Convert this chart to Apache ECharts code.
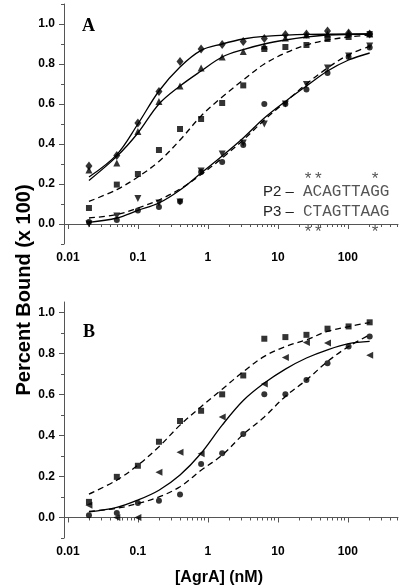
<!DOCTYPE html>
<html><head><meta charset="utf-8">
<script src="https://cdn.jsdelivr.net/npm/echarts@6/dist/echarts.min.js"></script>
<style>html,body{margin:0;padding:0;background:#fff}#c{width:400px;height:588px}</style>
</head><body><div id="c"></div>
<script>
// concentrations (nM)
const conc = [0.02, 0.05, 0.1, 0.2, 0.4, 0.8, 1.6, 3.2, 6.4, 12.8, 25.6, 51.2, 102.4, 204.8];
const xMajorTicks = [0.01, 0.1, 1, 10, 100];
const xMinorTicks = [0.02,0.03,0.04,0.05,0.06,0.07,0.08,0.09,0.2,0.3,0.4,0.5,0.6,0.7,0.8,0.9,2,3,4,5,6,7,8,9,20,30,40,50,60,70,80,90,200,300,400,500];
const yMajorTicks = [0, 0.2, 0.4, 0.6, 0.8, 1.0];
const yMinorTicksA = [-0.1, 0.1, 0.3, 0.5, 0.7, 0.9, 1.1];
const yMinorTicksB = [-0.1, 0.1, 0.3, 0.5, 0.7, 0.9];

// Panel A points
const aDiamond = [0.29, 0.343, 0.505, 0.663, 0.813, 0.875, 0.897, 0.913, 0.927, 0.947, 0.95, 0.965, 0.955, 0.95];
const aTriUp   = [0.27, 0.305, 0.463, 0.613, 0.69, 0.78, 0.835, 0.863, 0.89, 0.93, 0.945, 0.95, 0.955, 0.95];
const aSquare  = [0.08, 0.197, 0.25, 0.37, 0.475, 0.525, 0.605, 0.693, 0.875, 0.885, 0.895, 0.925, 0.935, 0.95];
const aCircle  = [0.01, 0.02, 0.068, 0.085, 0.112, 0.26, 0.31, 0.395, 0.6, 0.6, 0.672, 0.755, 0.835, 0.882];
const aTriDown = [0.0, 0.04, 0.127, 0.105, 0.11, 0.265, 0.35, 0.405, 0.5, 0.6, 0.697, 0.78, 0.84, 0.89];

// Panel A fitted curves, read as [conc, value]
const aDiamondFit = [[0.02,0.235],[0.05,0.347],[0.1,0.5],[0.2,0.665],[0.4,0.785],[0.8,0.868],[1.6,0.9],[3.2,0.925],[6.4,0.938],[25.6,0.948],[204.8,0.95]];
const aTriUpFit   = [[0.02,0.218],[0.05,0.338],[0.1,0.455],[0.2,0.6],[0.4,0.69],[0.8,0.765],[1.6,0.835],[3.2,0.872],[6.4,0.9],[12.8,0.92],[25.6,0.935],[51.2,0.945],[204.8,0.95]];
const aSquareFit  = [[0.02,0.113],[0.05,0.172],[0.1,0.235],[0.2,0.313],[0.4,0.42],[0.8,0.54],[1.6,0.635],[3.2,0.72],[6.4,0.8],[12.8,0.855],[25.6,0.895],[51.2,0.92],[102.4,0.935],[204.8,0.945]];
const aCircleFit  = [[0.02,0.008],[0.05,0.03],[0.1,0.068],[0.2,0.105],[0.4,0.17],[0.8,0.255],[1.6,0.34],[3.2,0.43],[6.4,0.53],[12.8,0.613],[25.6,0.69],[51.2,0.765],[102.4,0.82],[204.8,0.855]];
const aTriDownFit = [[0.02,0.03],[0.05,0.047],[0.1,0.08],[0.2,0.12],[0.4,0.175],[0.8,0.247],[1.6,0.33],[3.2,0.42],[6.4,0.52],[12.8,0.61],[25.6,0.7],[51.2,0.78],[102.4,0.846],[204.8,0.888]];

// Panel B points
const bSquare  = [0.076, 0.198, 0.252, 0.369, 0.47, 0.52, 0.6, 0.692, 0.871, 0.879, 0.89, 0.92, 0.931, 0.951];
const bTriLeft = [0.06, 0.0, 0.0, 0.22, 0.318, 0.31, 0.49, null, 0.65, 0.78, 0.853, 0.85, null, 0.79];
const bCircle  = [0.011, 0.022, 0.071, 0.081, 0.112, 0.26, 0.313, 0.407, 0.6, 0.6, 0.67, 0.752, 0.833, 0.882];

// Panel B fitted curves
const bSquareFit  = [[0.02,0.114],[0.05,0.182],[0.1,0.255],[0.2,0.345],[0.4,0.45],[0.8,0.54],[1.6,0.625],[3.2,0.71],[6.4,0.785],[12.8,0.833],[25.6,0.866],[51.2,0.907],[102.4,0.93],[204.8,0.95]];
const bTriLeftFit = [[0.02,0.027],[0.05,0.049],[0.1,0.085],[0.2,0.133],[0.4,0.207],[0.8,0.313],[1.6,0.45],[3.2,0.57],[6.4,0.655],[12.8,0.723],[25.6,0.777],[51.2,0.817],[102.4,0.847],[204.8,0.858]];
const bCircleFit  = [[0.02,0.03],[0.05,0.045],[0.1,0.068],[0.2,0.1],[0.4,0.15],[0.8,0.23],[1.6,0.304],[3.2,0.405],[6.4,0.49],[12.8,0.59],[25.6,0.67],[51.2,0.76],[102.4,0.833],[204.8,0.89]];

const chart = echarts.init(document.getElementById('c'), null, {renderer: 'canvas'});
const AX = '#555';
const LBL = {fontFamily: 'Liberation Sans, Arial', fontWeight: 'bold', fontSize: 12, color: '#000'};
const X_MIN = 0.0088, X_MAX = 520;

function xAxes(gi) {
  return [
    {type: 'log', gridIndex: gi, min: X_MIN, max: X_MAX, logBase: 10,
     axisLine: {show: true, lineStyle: {color: AX, width: 1}},
     axisTick: {show: true, customValues: xMajorTicks, length: 5, lineStyle: {color: AX}},
     axisLabel: Object.assign({customValues: xMajorTicks, margin: 8, formatter: v => String(v)}, LBL),
     splitLine: {show: false}, minorTick: {show: false}},
    {type: 'log', gridIndex: gi, min: X_MIN, max: X_MAX, logBase: 10, position: 'bottom',
     axisLine: {show: false},
     axisTick: {show: true, customValues: xMinorTicks, length: 3, lineStyle: {color: AX}},
     axisLabel: {show: false}, splitLine: {show: false}}
  ];
}
function yAxes(gi, max, minor) {
  return [
    {type: 'value', gridIndex: gi, min: -0.1, max: max,
     axisLine: {show: true, lineStyle: {color: AX, width: 1}},
     axisTick: {show: true, customValues: yMajorTicks, length: 5, lineStyle: {color: AX}},
     axisLabel: Object.assign({customValues: yMajorTicks, margin: 9, formatter: v => v.toFixed(1)}, LBL),
     splitLine: {show: false}},
    {type: 'value', gridIndex: gi, min: -0.1, max: max, position: 'left',
     axisLine: {show: false},
     axisTick: {show: true, customValues: minor, length: 3, lineStyle: {color: AX}},
     axisLabel: {show: false}, splitLine: {show: false}}
  ];
}

function pts(vals) { return conc.map((c, i) => vals[i] == null ? null : [c, vals[i]]).filter(p => p); }
function scatter(xi, yi, vals, symbol, size, rot) {
  return {type: 'scatter', xAxisIndex: xi, yAxisIndex: yi, data: pts(vals), symbol: symbol,
          symbolSize: size, symbolRotate: rot || 0, itemStyle: {color: '#000'}, silent: true, z: 5};
}
function curve(xi, yi, data, dashed) {
  return {type: 'line', xAxisIndex: xi, yAxisIndex: yi, data: data, smooth: 0.35, showSymbol: false,
          lineStyle: {color: '#000', width: 1.3, type: dashed ? [6, 4] : 'solid'}, silent: true, z: 3};
}

const MONO = '"Liberation Mono", "Courier New", monospace';
const option = {
  animation: false,
  backgroundColor: '#fff',
  grid: [
    {left: 64, top: 4, width: 334, height: 240, containLabel: false},
    {left: 64, top: 302, width: 334, height: 236, containLabel: false}
  ],
  xAxis: [...xAxes(0), ...xAxes(1)],
  yAxis: [...yAxes(0, 1.1, yMinorTicksA), ...yAxes(1, 1.05, yMinorTicksB)],
  series: [
    curve(0, 0, aDiamondFit, false),
    curve(0, 0, aTriUpFit, false),
    curve(0, 0, aSquareFit, true),
    curve(0, 0, aCircleFit, false),
    curve(0, 0, aTriDownFit, true),
    scatter(0, 0, aDiamond, 'diamond', [7, 9]),
    scatter(0, 0, aTriUp, 'triangle', 7),
    scatter(0, 0, aSquare, 'rect', 6),
    scatter(0, 0, aCircle, 'circle', 6),
    scatter(0, 0, aTriDown, 'triangle', 7, 180),
    curve(2, 2, bSquareFit, true),
    curve(2, 2, bTriLeftFit, false),
    curve(2, 2, bCircleFit, true),
    scatter(2, 2, bSquare, 'rect', 6),
    scatter(2, 2, bTriLeft, 'triangle', 7, 90),
    scatter(2, 2, bCircle, 'circle', 6)
  ],
  graphic: [
    {type: 'text', left: 82, top: 17, style: {text: 'A', font: 'bold 18px "Liberation Serif", "Times New Roman", serif', fill: '#000'}},
    {type: 'text', left: 83, top: 323, style: {text: 'B', font: 'bold 18px "Liberation Serif", "Times New Roman", serif', fill: '#000'}},
    {type: 'text', x: 24, y: 290, rotation: Math.PI / 2,
     style: {text: 'Percent Bound (x 100)', font: 'bold 20px "Liberation Sans", Arial', fill: '#000', align: 'center', verticalAlign: 'middle'}},
    {type: 'text', x: 219, y: 578, style: {text: '[AgrA] (nM)', font: 'bold 16px "Liberation Sans", Arial', fill: '#000', align: 'center', verticalAlign: 'middle'}},
    {type: 'text', x: 263, y: 192, style: {text: 'P2 \u2013 ', font: '15px "Liberation Sans", Arial', fill: '#222', verticalAlign: 'middle'}},
    {type: 'text', x: 303, y: 192, style: {text: 'ACAGTTAGG', font: '16px ' + MONO, fill: '#555', verticalAlign: 'middle'}},
    {type: 'text', x: 303, y: 179, style: {text: '**', font: '17px ' + MONO, fill: '#555', verticalAlign: 'middle'}},
    {type: 'text', x: 370, y: 179, style: {text: '*', font: '17px ' + MONO, fill: '#555', verticalAlign: 'middle'}},
    {type: 'text', x: 263, y: 212, style: {text: 'P3 \u2013 ', font: '15px "Liberation Sans", Arial', fill: '#222', verticalAlign: 'middle'}},
    {type: 'text', x: 303, y: 212, style: {text: 'CTAGTTAAG', font: '16px ' + MONO, fill: '#555', verticalAlign: 'middle'}},
    {type: 'text', x: 303, y: 232, style: {text: '**', font: '17px ' + MONO, fill: '#555', verticalAlign: 'middle'}},
    {type: 'text', x: 370, y: 232, style: {text: '*', font: '17px ' + MONO, fill: '#555', verticalAlign: 'middle'}}
  ]
};
chart.setOption(option);
</script></body></html>
